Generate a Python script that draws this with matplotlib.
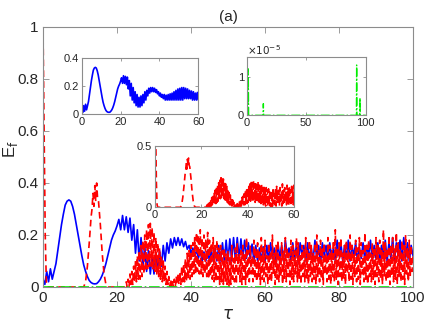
import numpy as np
import matplotlib
matplotlib.use("Agg")
import matplotlib.pyplot as plt

plt.rcParams['font.family'] = ['Liberation Sans', 'DejaVu Sans']
plt.rcParams['mathtext.fontset'] = 'dejavusans'

# ---- data ----
# blue (solid): smooth part, then fast oscillation sampled every 0.5
blue_t_smooth = [0, 0.5, 1, 1.5, 2, 2.5, 3, 3.5, 4, 4.5, 5, 5.5, 6, 6.5, 7, 7.5, 8, 8.5, 9, 9.5,
                 10, 10.5, 11, 11.5, 12, 12.5, 13, 13.5, 14, 14.5, 15, 15.5, 16, 16.5, 17, 17.5,
                 18, 18.5, 19, 19.5, 20]
blue_e_smooth = [0.03, 0.01, 0.06, 0.02, 0.07, 0.03, 0.06, 0.09, 0.14, 0.19, 0.24, 0.28, 0.315,
                 0.33, 0.335, 0.33, 0.31, 0.28, 0.24, 0.20, 0.16, 0.12, 0.085, 0.06, 0.04, 0.025,
                 0.017, 0.013, 0.012, 0.013, 0.02, 0.03, 0.045, 0.065, 0.09, 0.12, 0.15, 0.18,
                 0.20, 0.215, 0.235]
blue_e_osc = [
    0.26, 0.22, 0.275, 0.22, 0.27, 0.21, 0.265, 0.18, 0.24, 0.13, 0.22, 0.10, 0.19, 0.08, 0.16, 0.06, 0.14, 0.05, 0.12, 0.05,
    0.13, 0.06, 0.14, 0.08, 0.16, 0.10, 0.17, 0.13, 0.185, 0.15, 0.19, 0.16, 0.19, 0.16, 0.185, 0.155, 0.175, 0.145, 0.16, 0.13,
    0.15, 0.12, 0.14, 0.11, 0.14, 0.10, 0.135, 0.10, 0.14, 0.10, 0.145, 0.10, 0.15, 0.10, 0.16, 0.10, 0.17, 0.10, 0.18, 0.10,
    0.185, 0.10, 0.19, 0.10, 0.19, 0.11, 0.185, 0.11, 0.18, 0.11, 0.17, 0.11, 0.165, 0.10, 0.16, 0.10, 0.15, 0.10, 0.155, 0.10,
    0.16, 0.10, 0.17, 0.11, 0.15, 0.09, 0.17, 0.11, 0.16, 0.10, 0.18, 0.12, 0.15, 0.10, 0.17, 0.11, 0.16, 0.09, 0.17, 0.12,
    0.16, 0.10, 0.17, 0.11, 0.15, 0.10, 0.18, 0.11, 0.16, 0.09, 0.17, 0.12, 0.16, 0.10, 0.17, 0.11, 0.15, 0.10, 0.18, 0.12,
    0.17, 0.10, 0.16, 0.11, 0.18, 0.10, 0.16, 0.12, 0.17, 0.10, 0.15, 0.11, 0.17, 0.10, 0.16, 0.12, 0.18, 0.10, 0.16, 0.11,
    0.17, 0.10, 0.16, 0.12, 0.18, 0.10, 0.17, 0.11, 0.19, 0.10, 0.17, 0.12, 0.18, 0.10, 0.19, 0.11, 0.17, 0.10, 0.16, 0.12,
]

# red (dashed): initial drop and first peak, then fast oscillation sampled every 0.25
red_t_smooth = [0, 0.3, 0.6, 0.9, 1.2, 2, 4, 6, 8, 10, 11, 11.5, 12, 12.5, 13, 13.25, 13.5, 13.75,
                14, 14.25, 14.5, 14.75, 15, 15.5, 16, 16.5, 17, 17.5, 19, 21, 22]
red_e_smooth = [1.0, 0.6, 0.2, 0.02, 0, 0, 0, 0, 0, 0, 0, 0.02, 0.08, 0.17, 0.27, 0.30, 0.36, 0.31,
                0.39, 0.33, 0.40, 0.34, 0.33, 0.24, 0.13, 0.05, 0.01, 0, 0, 0, 0]
red_e_osc = [
    0.02, 0.0, 0.03, 0.0, 0.05, 0.01, 0.06, 0.01, 0.08, 0.02, 0.10, 0.02, 0.12, 0.03, 0.14, 0.03,
    0.16, 0.04, 0.18, 0.05, 0.20, 0.06, 0.22, 0.07, 0.24, 0.08, 0.245, 0.08, 0.23, 0.07, 0.21, 0.06,
    0.19, 0.05, 0.17, 0.04, 0.15, 0.03, 0.12, 0.02, 0.10, 0.02, 0.08, 0.01, 0.06, 0.01, 0.04, 0.0,
    0.03, 0.0, 0.02, 0.0, 0.03, 0.0, 0.04, 0.01, 0.05, 0.01, 0.06, 0.01, 0.08, 0.02, 0.09, 0.02,
    0.11, 0.02, 0.13, 0.03, 0.14, 0.03, 0.16, 0.04, 0.17, 0.05, 0.19, 0.05, 0.21, 0.06, 0.20, 0.05,
    0.22, 0.05, 0.19, 0.04, 0.20, 0.05, 0.18, 0.04, 0.21, 0.03, 0.18, 0.04, 0.17, 0.03, 0.19, 0.02,
    0.16, 0.02, 0.18, 0.03, 0.15, 0.01, 0.16, 0.02, 0.14, 0.01, 0.15, 0.02, 0.13, 0.01, 0.14, 0.0,
    0.12, 0.01, 0.16, 0.03, 0.11, 0.02, 0.15, 0.01, 0.17, 0.04, 0.13, 0.02, 0.14, 0.01, 0.16, 0.03,
    0.13, 0.01, 0.19, 0.03, 0.14, 0.02, 0.16, 0.05, 0.12, 0.02, 0.18, 0.03, 0.15, 0.02, 0.17, 0.04,
    0.14, 0.01, 0.19, 0.03, 0.15, 0.02, 0.18, 0.04, 0.12, 0.01, 0.17, 0.03, 0.14, 0.02, 0.20, 0.05,
    0.13, 0.01, 0.16, 0.03, 0.18, 0.02, 0.12, 0.04, 0.17, 0.01, 0.14, 0.03, 0.19, 0.02, 0.15, 0.04,
    0.13, 0.01, 0.18, 0.03, 0.16, 0.02, 0.14, 0.05, 0.19, 0.02, 0.17, 0.03, 0.12, 0.01, 0.16, 0.04,
    0.15, 0.02, 0.19, 0.03, 0.14, 0.01, 0.18, 0.04, 0.16, 0.02, 0.13, 0.03, 0.17, 0.01, 0.20, 0.04,
    0.14, 0.02, 0.18, 0.03, 0.15, 0.01, 0.17, 0.05, 0.13, 0.02, 0.19, 0.03, 0.16, 0.01, 0.14, 0.04,
    0.18, 0.02, 0.22, 0.03, 0.15, 0.01, 0.17, 0.04, 0.19, 0.02, 0.13, 0.03, 0.16, 0.01, 0.18, 0.05,
    0.14, 0.02, 0.20, 0.03, 0.16, 0.01, 0.13, 0.04, 0.18, 0.02, 0.15, 0.03, 0.19, 0.01, 0.17, 0.05,
    0.14, 0.02, 0.21, 0.03, 0.16, 0.01, 0.18, 0.04, 0.13, 0.02, 0.17, 0.03, 0.15, 0.01, 0.19, 0.04,
    0.16, 0.02, 0.18, 0.03, 0.14, 0.01, 0.22, 0.04, 0.17, 0.02, 0.15, 0.03, 0.20, 0.01, 0.16, 0.04,
    0.19, 0.02, 0.15, 0.03, 0.21, 0.01, 0.17, 0.04, 0.14, 0.02, 0.18, 0.03, 0.16, 0.01, 0.20, 0.05,
    0.15, 0.02, 0.18, 0.04, 0.16, 0.06, 0.12,
]

# green: tiny, in units of 1e-5
green_t = [0, 0.4, 1.0, 1.3, 1.6, 13.8, 14.0, 14.2, 92.2, 92.4, 92.6, 95.0, 95.2, 95.4, 100]
green_e5 = [1.6, 0, 0, 1.2, 0, 0, 0.3, 0, 0, 1.3, 0, 0, 0.45, 0, 0]

tau_blue = np.concatenate([blue_t_smooth, np.arange(20.5, 100.01, 0.5)])
e_blue = np.concatenate([blue_e_smooth, blue_e_osc])
tau_red = np.concatenate([red_t_smooth, np.arange(22.5, 100.01, 0.25)])
e_red = np.concatenate([red_e_smooth, red_e_osc])
tau_green = np.array(green_t)
e_green = np.array(green_e5)

BLUE = '#0000ff'
RED = '#ff0000'
GREEN = '#00ee00'
SPINE = '#8c8c8c'
TXT = '#262626'

W, H = 436, 327
fig = plt.figure(figsize=(W / 100, H / 100), dpi=100)


def px_axes(x0, x1, y0, y1):
    # pixel box -> figure fraction
    return fig.add_axes([x0 / W, 1 - y1 / H, (x1 - x0) / W, (y1 - y0) / H])


def style(ax, fs, ticklen):
    for s in ax.spines.values():
        s.set_color(SPINE)
        s.set_linewidth(0.8)
    ax.tick_params(direction='in', length=ticklen, width=0.6, colors=SPINE,
                   labelcolor=TXT, labelsize=fs, top=True, right=True, pad=2)


# main axes
ax = px_axes(43, 413, 27, 287)
ax.plot(tau_blue, e_blue, color=BLUE, lw=1.2)
ax.plot(tau_red, e_red, color=RED, lw=1.2, dashes=(4, 2.5))
ax.plot(tau_green, e_green * 1e-5, color=GREEN, lw=1.2, ls='-.')
ax.set_xlim(0, 100)
ax.set_ylim(0, 1)
ax.set_xticks([0, 20, 40, 60, 80, 100])
ax.set_yticks([0, 0.2, 0.4, 0.6, 0.8, 1])
ax.set_yticklabels(['0', '0.2', '0.4', '0.6', '0.8', '1'])
style(ax, 11, 4)
ax.tick_params(pad=3)
ax.set_title('(a)', fontsize=11, color=TXT, pad=4)
ax.set_xlabel(r'$\tau$', fontsize=12, color=TXT, labelpad=1)
ax.set_ylabel(r'E$_\mathrm{f}$', fontsize=12, color=TXT)
ax.yaxis.set_label_coords(-23 / 370, 0.53)

# inset 1: blue
a1 = px_axes(81.7, 198.3, 58.3, 114)
a1.plot(tau_blue, e_blue, color=BLUE, lw=1.2)
a1.set_xlim(0, 60)
a1.set_ylim(0, 0.4)
a1.set_xticks([0, 20, 40, 60])
a1.set_yticks([0, 0.2, 0.4])
a1.set_yticklabels(['0', '0.2', '0.4'])
style(a1, 8, 2)

# inset 2: green
a2 = px_axes(246.7, 365.7, 57.3, 115.3)
a2.plot(tau_green, e_green, color=GREEN, lw=1.0, ls='-.')
a2.set_xlim(0, 100)
a2.set_ylim(0, 1.5)
a2.set_xticks([0, 50, 100])
a2.set_yticks([0, 1])
a2.set_yticklabels(['0', '1'])
style(a2, 8, 2)
a2.text(0, 1.0, r'$\times10^{-5}$', transform=a2.transAxes, fontsize=7.5,
        color=TXT, ha='left', va='bottom')

# inset 3: red
a3 = px_axes(155, 294, 145.7, 207.3)
a3.plot(tau_red, e_red, color=RED, lw=1.2, dashes=(4, 2.5))
a3.set_xlim(0, 60)
a3.set_ylim(0, 0.5)
a3.set_xticks([0, 20, 40, 60])
a3.set_yticks([0, 0.5])
a3.set_yticklabels(['0', '0.5'])
style(a3, 8, 2)

fig.savefig('out.png', dpi=100)
